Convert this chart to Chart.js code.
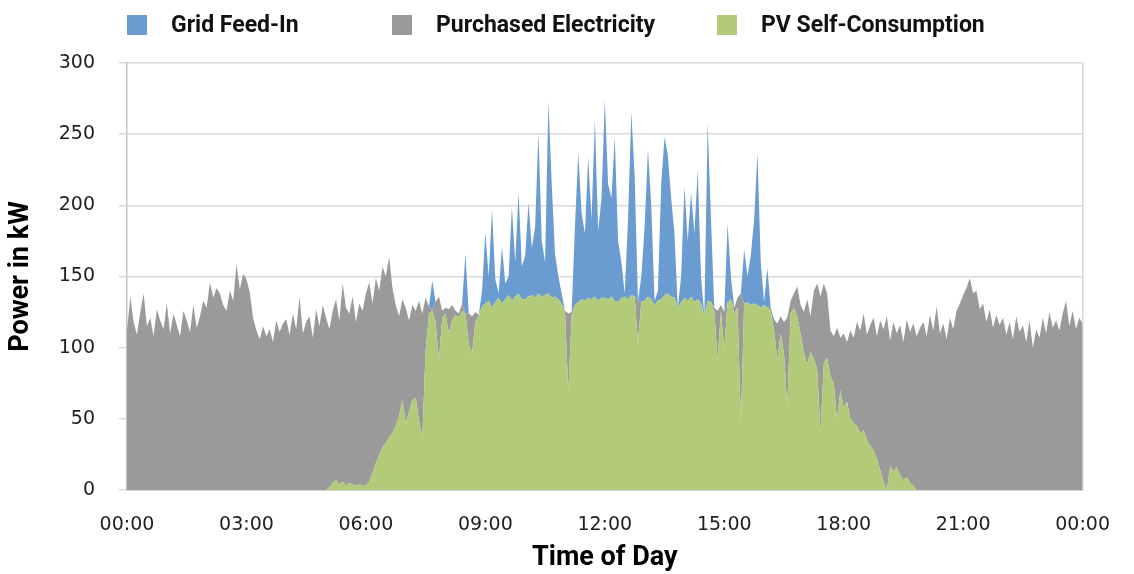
<!DOCTYPE html>
<html lang="en">
<head>
<meta charset="UTF-8">
<title>Power in kW over the Time of Day</title>
<style>
    body { margin: 0; background: #fff; }
    #wrap { position: relative; width: 1134px; height: 574px; }
    #legend {
        position: absolute; top: 0; left: 0; width: 1134px; height: 50px;
        font-family: Roboto, 'Noto Sans', sans-serif;
        font-weight: bold; font-size: 23px; color: #111;
    }
    #legend .box { position: absolute; top: 15px; width: 20px; height: 20px; }
    #legend .txt { position: absolute; top: 10px; line-height: 30px; white-space: nowrap; }
</style>
<script src="https://cdn.jsdelivr.net/npm/chart.js"></script>
</head>
<body>
<div id="wrap">
    <canvas id="chart" width="1134" height="574"></canvas>
    <div id="legend"></div>
</div>
<script>
// one value every 5 minutes, 00:00 .. 24:00 (289 points), kW
// each row is two hours
const pvSelf = [
    0, 0, 0, 0, 0, 0, 0, 0, 0, 0, 0, 0, 0, 0, 0, 0, 0, 0, 0, 0, 0, 0, 0, 0,                                 // 00:00
    0, 0, 0, 0, 0, 0, 0, 0, 0, 0, 0, 0, 0, 0, 0, 0, 0, 0, 0, 0, 0, 0, 0, 0,                                 // 02:00
    0, 0, 0, 0, 0, 0, 0, 0, 0, 0, 0, 0, 0, 2, 5, 7, 4, 6, 3, 5, 4, 3, 4, 3,                                 // 04:00
    3, 6, 12, 19, 24, 30, 33, 37, 40, 45, 52, 63, 47, 55, 63, 65, 49, 36, 98, 124, 126, 118, 91, 121,       // 06:00
    124, 110, 119, 123, 121, 126, 124, 103, 96, 118, 122, 129, 131, 133, 128, 132, 135, 131, 134, 137, 133, 136, 138, 134, // 08:00
    134, 136, 137, 135, 138, 136, 137, 138, 135, 136, 134, 131, 126, 68, 122, 130, 132, 134, 133, 135, 134, 136, 133, 135,  // 10:00
    135, 134, 136, 133, 132, 135, 136, 134, 137, 136, 103, 132, 133, 136, 134, 130, 133, 134, 137, 138, 136, 135, 128, 132, // 12:00
    135, 133, 136, 132, 134, 131, 122, 133, 132, 125, 91, 126, 98, 132, 134, 124, 128, 47, 131, 132, 130, 131, 130, 128,     // 14:00
    130, 128, 126, 112, 91, 110, 96, 58, 124, 128, 122, 110, 96, 88, 97, 92, 85, 40, 89, 93, 80, 75, 49, 70,                // 16:00
    58, 62, 50, 47, 45, 40, 42, 35, 31, 28, 22, 14, 6, 0, 17, 13, 16, 10, 7, 9, 5, 3, 0, 0,                                 // 18:00
    0, 0, 0, 0, 0, 0, 0, 0, 0, 0, 0, 0, 0, 0, 0, 0, 0, 0, 0, 0, 0, 0, 0, 0,                                 // 20:00
    0, 0, 0, 0, 0, 0, 0, 0, 0, 0, 0, 0, 0, 0, 0, 0, 0, 0, 0, 0, 0, 0, 0, 0,                                 // 22:00
    0
];
const purchased = [
    112, 136, 118, 109, 125, 138, 115, 121, 108, 127, 119, 113, 131, 110, 124, 116, 108, 126, 119, 111, 130, 114, 122, 133,
    128, 146, 135, 142, 138, 130, 126, 140, 133, 159, 141, 152, 148, 139, 121, 112, 106, 115, 108, 113, 104, 119, 111, 117,
    120, 109, 124, 113, 136, 110, 118, 122, 107, 127, 115, 130, 121, 111, 121, 127, 115, 139, 125, 119, 132, 115, 127, 123,
    135, 140, 119, 130, 116, 127, 117, 127, 102, 85, 70, 71, 81, 64, 67, 61, 84, 88, 37, 5, 0, 14, 45, 5,
    4, 17, 11, 3, 3, 5, 0, 21, 26, 7, 1, 0, 0, 0, 0, 0, 0, 0, 0, 0, 0, 0, 0, 0,
    0, 0, 0, 0, 0, 0, 0, 0, 0, 0, 0, 0, 0, 56, 3, 0, 0, 0, 0, 0, 0, 0, 0, 0,
    0, 0, 0, 0, 0, 0, 0, 0, 0, 0, 30, 0, 0, 0, 0, 0, 0, 0, 0, 0, 0, 0, 0, 0,
    0, 0, 0, 0, 0, 0, 0, 0, 0, 3, 35, 4, 27, 0, 0, 4, 7, 91, 0, 0, 0, 0, 0, 0,
    0, 0, 2, 8, 26, 12, 22, 63, 9, 10, 21, 20, 29, 46, 25, 48, 60, 96, 56, 45, 32, 33, 65, 37,
    52, 42, 62, 60, 73, 72, 82, 74, 85, 93, 86, 105, 107, 122, 88, 105, 94, 106, 97, 111, 106, 114, 108, 114,
    118, 108, 123, 112, 129, 110, 117, 106, 121, 113, 126, 131, 137, 142, 149, 138, 140, 127, 131, 118, 127, 114, 123, 116,
    121, 109, 118, 106, 122, 111, 116, 104, 119, 100, 113, 107, 121, 110, 125, 114, 119, 112, 124, 133, 115, 126, 113, 121,
    117
];
const feedIn = [
    0, 0, 0, 0, 0, 0, 0, 0, 0, 0, 0, 0, 0, 0, 0, 0, 0, 0, 0, 0, 0, 0, 0, 0,
    0, 0, 0, 0, 0, 0, 0, 0, 0, 0, 0, 0, 0, 0, 0, 0, 0, 0, 0, 0, 0, 0, 0, 0,
    0, 0, 0, 0, 0, 0, 0, 0, 0, 0, 0, 0, 0, 0, 0, 0, 0, 0, 0, 0, 0, 0, 0, 0,
    0, 0, 0, 0, 0, 0, 0, 0, 0, 0, 0, 0, 0, 0, 0, 0, 0, 0, 0, 0, 21, 0, 0, 0,
    0, 0, 0, 0, 0, 0, 42, 0, 0, 0, 0, 11, 50, 17, 69, 16, 3, 40, 11, 13, 66, 24, 71, 23,
    31, 66, 33, 50, 113, 39, 23, 135, 80, 30, 16, 7, 0, 0, 0, 55, 105, 61, 47, 99, 56, 124, 49, 70,
    139, 81, 69, 115, 43, 25, 2, 56, 129, 84, 0, 18, 52, 103, 66, 3, 7, 81, 111, 97, 69, 45, 0, 18,
    78, 42, 73, 48, 91, 19, 0, 125, 58, 0, 0, 0, 0, 55, 16, 0, 0, 0, 38, 18, 35, 59, 107, 32,
    2, 28, 0, 0, 0, 0, 0, 0, 0, 0, 0, 0, 0, 0, 0, 0, 0, 0, 0, 0, 0, 0, 0, 0,
    0, 0, 0, 0, 0, 0, 0, 0, 0, 0, 0, 0, 0, 0, 0, 0, 0, 0, 0, 0, 0, 0, 0, 0,
    0, 0, 0, 0, 0, 0, 0, 0, 0, 0, 0, 0, 0, 0, 0, 0, 0, 0, 0, 0, 0, 0, 0, 0,
    0, 0, 0, 0, 0, 0, 0, 0, 0, 0, 0, 0, 0, 0, 0, 0, 0, 0, 0, 0, 0, 0, 0, 0,
    0
];
const tickLabels = ['00:00', '03:00', '06:00', '09:00', '12:00', '15:00', '18:00', '21:00', '00:00'];
const seriesNames = ['Grid Feed-In', 'Purchased Electricity', 'PV Self-Consumption'];
const seriesColors = ['#6A9BD1', '#9A9A9A', '#B1CB79'];

// minutes since midnight for each point
const minutes = pvSelf.map((v, i) => i * 5);

const titleFont = { family: "Roboto, 'Noto Sans', sans-serif", size: 27, weight: 'bold' };
const tickFont = { family: "'DejaVu Sans', sans-serif", size: 19 };

// legend as html, fixed slots like the original
const legendSlots = [[127, 171], [392, 436], [717, 761]];
const legend = document.getElementById('legend');
seriesNames.forEach((name, i) => {
    const box = document.createElement('span');
    box.className = 'box';
    box.style.left = legendSlots[i][0] + 'px';
    box.style.background = seriesColors[i];
    const txt = document.createElement('span');
    txt.className = 'txt';
    txt.style.left = legendSlots[i][1] + 'px';
    txt.textContent = name;
    legend.appendChild(box);
    legend.appendChild(txt);
});

function area(label, data, color, fill) {
    return {
        label: label,
        data: data,
        backgroundColor: color,
        borderWidth: 0,
        pointRadius: 0,
        tension: 0,
        fill: fill
    };
}

const ctx = document.getElementById('chart').getContext('2d');
const chart = new Chart(ctx, {
    type: 'line',
    data: {
        labels: minutes,
        datasets: [
            area(seriesNames[2], pvSelf, seriesColors[2], 'origin'),
            area(seriesNames[1], purchased, seriesColors[1], '-1'),
            area(seriesNames[0], feedIn, seriesColors[0], '-1')
        ]
    },
    options: {
        responsive: false,
        animation: false,
        layout: { padding: { top: 63, right: 44, bottom: 0, left: 0 } },
        plugins: {
            legend: { display: false },
            tooltip: { enabled: false }
        },
        scales: {
            x: {
                type: 'linear',
                min: 0,
                max: 1440,
                afterFit: s => { s.height = 84; },
                ticks: {
                    stepSize: 180,
                    autoSkip: false,
                    maxRotation: 0,
                    padding: 24,
                    color: '#1e1e1e',
                    font: tickFont,
                    callback: v => tickLabels[v / 180]
                },
                grid: {
                    drawTicks: false,
                    lineWidth: 1.5,
                    color: c => (c.tick && c.tick.value === 1440) ? '#D9D9D9' : 'rgba(0,0,0,0)'
                },
                border: { color: '#C4C4C4', width: 1.5 },
                title: { display: true, text: 'Time of Day', color: '#000', font: titleFont, padding: { top: 0, bottom: 0 } }
            },
            y: {
                stacked: true,
                min: 0,
                max: 300,
                afterFit: s => { s.width = 127; },
                ticks: {
                    stepSize: 50,
                    padding: 24,
                    color: '#1e1e1e',
                    font: tickFont
                },
                grid: { color: '#D9D9D9', lineWidth: 1.5, tickLength: 8 },
                border: { color: '#C4C4C4', width: 1.5 },
                title: { display: true, text: 'Power in kW', color: '#000', font: titleFont, padding: { top: 5, bottom: 0 } }
            }
        }
    }
});
</script>
</body>
</html>
